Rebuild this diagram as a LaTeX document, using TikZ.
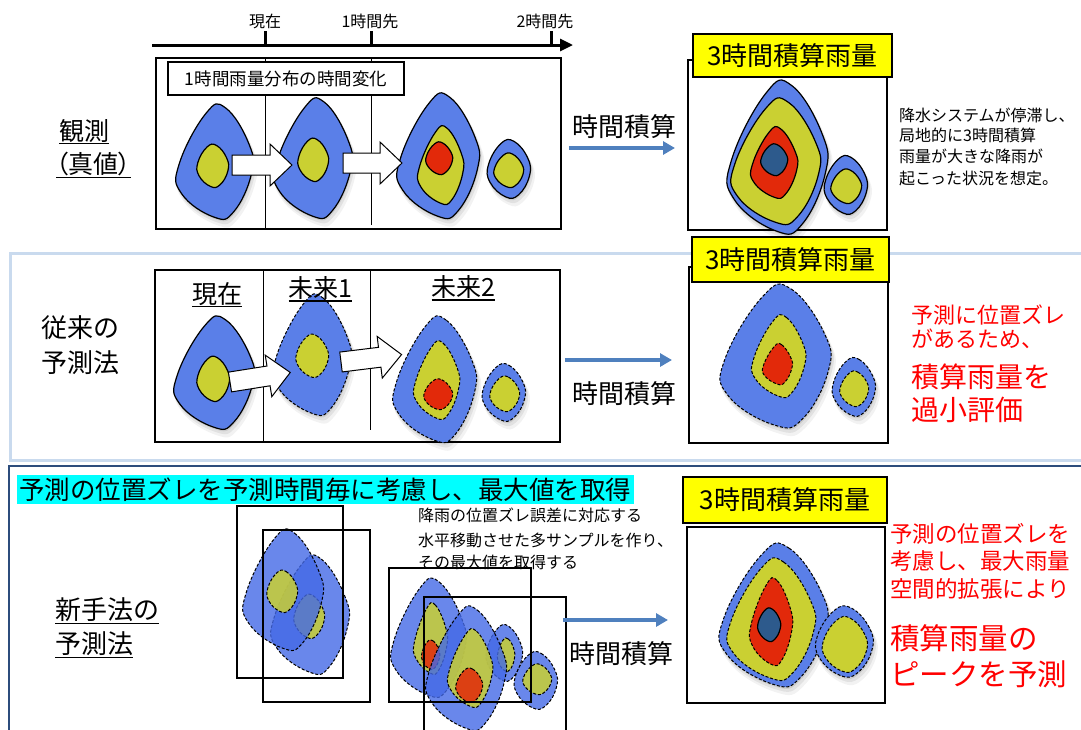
\documentclass[tikz,border=0pt]{standalone}
\usepackage{fontspec}
\setmainfont{Noto Sans CJK JP}
\newfontfamily\jpalt[RawFeature=+palt]{Noto Sans CJK JP}
\usetikzlibrary{arrows.meta}

\definecolor{rainblue}{HTML}{5A7FE8}
\definecolor{ghostblue}{HTML}{4469E6}
\definecolor{rainyellow}{HTML}{CAD032}
\definecolor{rainred}{HTML}{E2290A}
\definecolor{raincore}{HTML}{2D5A8C}
\definecolor{flowblue}{HTML}{4F80BE}
\definecolor{framelight}{HTML}{C9DAEE}
\definecolor{framedark}{HTML}{2C4C7C}
\definecolor{labelyellow}{HTML}{FFFF00}
\definecolor{bannercyan}{HTML}{00FFFF}
\definecolor{alertred}{HTML}{FF0000}

% outlines of rain cells in the unit square (+y points down):
% two points near each corner of a kite, joined by a smooth closed curve
\newcommand\kitepts{(-0.187,-0.77) (0.297,-0.862) (0.873,-0.258) (0.931,0.226) (0.499,0.854) (0.015,0.946) (-0.785,0.554) (-0.843,0.07)}
\newcommand\roundpts{(-0.3125,-0.775) (0.2375,-0.8375) (0.8125,-0.3125) (0.875,0.2375) (0.425,0.8125) (-0.125,0.875) (-0.775,0.425) (-0.8375,-0.125)}

\newcommand\blobplot[2]{\path[#2] plot[smooth cycle, tension=0.75] coordinates {#1};}
% \rainblob[style]{outline}{x0}{y0}{x1}{y1}: outline fitted into the box (x0,y0)-(x1,y1)
\newcommand\rainblob[6][]{%
  \begin{scope}[shift={({((#3)+(#5))/2},{((#4)+(#6))/2})},
                xscale={((#5)-(#3))/2*1.06}, yscale={((#6)-(#4))/2*1.06}]
    \expandafter\blobplot\expandafter{#2}{#1}%
  \end{scope}}
% soft shadow under a rain cell
\newcommand\blobshadow[5]{%
  \foreach \sh/\op in {5/0.05,3/0.07,1.2/0.09}{%
    \rainblob[fill=black, fill opacity=\op]{#1}{#2+0.3*\sh}{#3+0.9*\sh}{#4+0.9*\sh}{#5+1.6*\sh}}}
% white block arrow: \blockarrow{x}{y}{angle}{length}
\newcommand\blockarrow[4]{%
  \begin{scope}[shift={(#1,#2)}, rotate=#3]
    \draw[blockarrow] (0,-10) -- ({#4-22},-10) -- ({#4-22},-21) -- (#4,0)
      -- ({#4-22},21) -- ({#4-22},10) -- (0,10) -- cycle;
  \end{scope}}

\tikzset{
  fillblue/.style={fill=rainblue},
  fillyellow/.style={fill=rainyellow},
  fillred/.style={fill=rainred},
  fillcore/.style={fill=raincore},
  solidline/.style={draw=black, line width=1.2pt},
  dashline/.style={draw=black, line width=1pt, dash pattern=on 3pt off 1.8pt},
  ghost/.style={fill opacity=0.85},
  ghostblue/.style={fill=ghostblue, fill opacity=0.8},
  panel/.style={draw=black, line width=1.6pt, inner sep=0pt},
  resultbox/.style={draw=black, line width=2pt, inner sep=0pt},
  sample/.style={draw=black, line width=2pt, inner sep=0pt},
  ylabel/.style={draw=black, line width=1.3pt, fill=labelyellow, inner sep=0pt,
    font=\fontsize{26}{30}\selectfont},
  flow/.style={draw=flowblue, line width=4pt, -{Triangle[length=12pt,width=13pt]}},
  flowtext/.style={inner sep=0pt, font=\fontsize{26}{30}\selectfont},
  blockarrow/.style={draw=black, line width=1pt, fill=white, line join=miter},
  txt/.style={inner sep=0pt, anchor=west},
  underlined/.style={inner sep=0pt, outer sep=0pt,
    append after command={([yshift=-1.5pt]\tikzlastnode.south west)
      edge[draw=black, line width=1.3pt] ([yshift=-1.5pt]\tikzlastnode.south east)}},
}

\begin{document}
\begin{tikzpicture}[x=1pt, y=-1pt]
\useasboundingbox (0,0) rectangle (1081,729);

% ---------- section frames ----------
\draw[framelight, line width=3pt] (10,253) rectangle (1100,460);
\draw[framedark, line width=2.5pt] (9,466) rectangle (1100,745);

% ---------- observation (truth) ----------
\draw[line width=3pt, -{Triangle[length=13pt,width=12pt]}] (152,45) -- (573,45);
\foreach \tx in {265,371,551} \draw[line width=3pt] (\tx,31) -- (\tx,45);
\node[inner sep=0pt, font=\fontsize{16}{18}\selectfont] (tnow) at (265,21.5) {現在};
\node[inner sep=0pt, font=\fontsize{16}{18}\selectfont] (t1h) at (370,21.5) {1時間先};
\node[inner sep=0pt, font=\fontsize{16}{18}\selectfont] (t2h) at (545,21.5) {2時間先};

\node[panel, minimum width=405pt, minimum height=171pt] (p1) at (358.5,143.5) {};
\draw[line width=1pt] (265,58) -- (265,229);
\draw[line width=1pt] (371,58) -- (371,225);

\blobshadow{\kitepts}{175}{103}{252}{217}
\rainblob[fillblue,solidline]{\kitepts}{175}{103}{252}{217}
\rainblob[fillyellow,solidline]{\roundpts}{196}{143}{229}{188}
\blobshadow{\kitepts}{273}{97}{351}{216}
\rainblob[fillblue,solidline]{\kitepts}{273}{97}{351}{216}
\rainblob[fillyellow,solidline]{\roundpts}{297}{137}{329}{182}
\blobshadow{\kitepts}{396}{92}{478}{216}
\rainblob[fillblue,solidline]{\kitepts}{396}{92}{478}{216}
\rainblob[fillyellow,solidline]{\kitepts}{417}{125}{463}{203}
\rainblob[fillred,solidline]{\roundpts}{425}{141}{453}{175}
\blobshadow{\roundpts}{486}{138}{531}{199}
\rainblob[fillblue,solidline]{\roundpts}{486}{138}{531}{199}
\rainblob[fillyellow,solidline]{\roundpts}{493}{152}{524}{188}

\blockarrow{232}{165}{0}{60}
\blockarrow{343}{163}{0}{59}

\node[draw=black, line width=1.2pt, fill=white, inner sep=0pt, minimum width=236pt,
  minimum height=33pt, font=\fontsize{17.5}{20}\selectfont] (hourly) at (286,78.5)
  {1時間雨量分布の時間変化};

\node[underlined, anchor=base west, font=\fontsize{25}{30}\selectfont] (obs) at (59,140) {観測};
\node[underlined, anchor=base west, font=\fontsize{25}{30}\jpalt] (truth) at (56,173.5) {（真値）};

\node[resultbox, minimum width=199pt, minimum height=170pt] (r1) at (787.5,145) {};
\blobshadow{\kitepts}{726}{79}{826}{231}
\rainblob[fillblue,solidline]{\kitepts}{726}{79}{826}{231}
\rainblob[fillyellow,solidline]{\kitepts}{730}{97}{819}{222}
\rainblob[fillred,solidline]{\kitepts}{750}{126}{797}{197}
\rainblob[fillcore,solidline]{\roundpts}{760}{143}{788}{176}
\blobshadow{\roundpts}{823}{154}{868}{215}
\rainblob[fillblue,solidline]{\roundpts}{823}{154}{868}{215}
\rainblob[fillyellow,solidline]{\roundpts}{830}{168}{862}{204}
\node[ylabel, minimum width=199pt, minimum height=43pt] (acc1) at (792.5,55.5) {3時間積算雨量};

\draw[flow] ([xshift=7pt,yshift=-4.5pt]p1.east) -- ([xshift=-12pt,yshift=-3pt]r1.west);
\node[flowtext] (int1) at (624,126.5) {時間積算};

\begin{scope}[font=\fontsize{16}{18}\selectfont]
\node[txt] (note1a) at (899,115) {降水システムが停滞し、};
\node[txt] (note1b) at (899,135) {局地的に3時間積算};
\node[txt] (note1c) at (899,156.5) {雨量が大きな降雨が};
\node[txt] (note1d) at (899,178) {起こった状況を想定。};
\end{scope}

% ---------- conventional forecast ----------
\node[txt, font=\fontsize{26}{30}\selectfont] (conv1) at (41,327.5) {従来の};
\node[txt, font=\fontsize{26}{30}\selectfont] (conv2) at (41,363) {予測法};

\node[panel, minimum width=405pt, minimum height=172pt] (p2) at (357.5,356) {};
\draw[line width=1pt] (263,270) -- (263,442);
\draw[line width=1pt] (370,270) -- (370,430);

\blobshadow{\kitepts}{173}{315}{253}{427}
\rainblob[fillblue,solidline]{\kitepts}{173}{315}{253}{427}
\rainblob[fillyellow,solidline]{\roundpts}{196}{355}{230}{402}
\blobshadow{\kitepts}{272}{293}{350}{413}
\rainblob[fillblue,dashline]{\kitepts}{272}{293}{350}{413}
\rainblob[fillyellow,dashline]{\roundpts}{295}{333}{329}{378}
\blobshadow{\kitepts}{392}{315}{475}{440}
\rainblob[fillblue,dashline]{\kitepts}{392}{315}{475}{440}
\rainblob[fillyellow,dashline]{\kitepts}{413}{340}{459}{418}
\rainblob[fillred,dashline]{\roundpts}{423}{378}{453}{410}
\blobshadow{\roundpts}{481}{362}{526}{422}
\rainblob[fillblue,dashline]{\roundpts}{481}{362}{526}{422}
\rainblob[fillyellow,dashline]{\roundpts}{489}{375}{520}{412}

\blockarrow{230}{382}{9}{61}
\blockarrow{341}{362}{7}{61}

\node[underlined, anchor=base, font=\fontsize{25}{30}\selectfont] (now2) at (217,303) {現在};
\node[underlined, anchor=base, font=\fontsize{25}{30}\selectfont] (fut1) at (320.5,297.5) {未来1};
\node[underlined, anchor=base, font=\fontsize{25}{30}\selectfont] (fut2) at (463.5,296.5) {未来2};

\node[resultbox, minimum width=199pt, minimum height=176pt] (r2) at (788.5,355) {};
\blobshadow{\kitepts}{719}{283}{829}{425}
\rainblob[fillblue,dashline]{\kitepts}{719}{283}{829}{425}
\rainblob[fillyellow,dashline]{\kitepts}{751}{314}{805}{396}
\rainblob[fillred,dashline]{\kitepts}{762}{343}{792}{384}
\blobshadow{\roundpts}{831}{356}{876}{417}
\rainblob[fillblue,dashline]{\roundpts}{831}{356}{876}{417}
\rainblob[fillyellow,dashline]{\roundpts}{839}{370}{869}{407}
\node[ylabel, minimum width=197pt, minimum height=45pt] (acc2) at (790.5,259.5) {3時間積算雨量};

\draw[flow] ([xshift=4pt,yshift=-4pt]p2.east) -- ([xshift=-16pt,yshift=-5pt]r2.west);
\node[flowtext] (int2) at (624.5,394) {時間積算};

\begin{scope}[alertred]
\node[txt, font=\fontsize{22}{24}\selectfont] (warn2a) at (911,315) {予測に位置ズレ};
\node[txt, font=\fontsize{22}{24}\selectfont] (warn2b) at (911,339) {があるため、};
\node[txt, font=\fontsize{28}{30}\selectfont] (warn2c) at (911,376.5) {積算雨量を};
\node[txt, font=\fontsize{28}{30}\selectfont] (warn2d) at (911,410) {過小評価};
\end{scope}

% ---------- new method ----------
\node[fill=bannercyan, inner sep=0pt, minimum width=617pt, minimum height=29pt,
  font=\fontsize{25.5}{28}\selectfont] (banner) at (325.5,489.5)
  {予測の位置ズレを予測時間毎に考慮し、最大値を取得};

\node[underlined, anchor=base west, font=\fontsize{26}{30}\selectfont] (new1) at (55,619.5) {新手法の};
\node[underlined, anchor=base west, font=\fontsize{26}{30}\selectfont] (new2) at (55,653.5) {予測法};

% shifted samples of the first-hour cell
\rainblob[ghostblue,dashline]{\kitepts}{270}{554}{348}{672}
\rainblob[fillyellow,ghost,dashline]{\roundpts}{293}{593}{325}{639}
\rainblob[ghostblue,dashline]{\kitepts}{242}{528}{322}{648}
\rainblob[fillyellow,ghost,dashline]{\roundpts}{266}{569}{298}{613}

% shifted samples of the second-hour cells
\rainblob[ghostblue,dashline]{\kitepts}{390}{577}{465}{695}
\rainblob[fillyellow,ghost,dashline]{\kitepts}{413}{602}{447}{673}
\rainblob[fillred,ghost,dashline]{\roundpts}{421}{639}{440}{670}
\rainblob[ghostblue,dashline]{\roundpts}{485}{623}{523}{682}
\rainblob[fillyellow,ghost,dashline]{\roundpts}{497}{637}{515}{672}
\rainblob[ghostblue,dashline]{\kitepts}{425}{605}{505}{728}
\rainblob[fillyellow,ghost,dashline]{\kitepts}{447}{628}{492}{706}
\rainblob[fillred,ghost,dashline]{\roundpts}{455}{667}{483}{703}
\rainblob[ghostblue,dashline]{\roundpts}{513}{650}{558}{710}
\rainblob[fillyellow,ghost,dashline]{\roundpts}{522}{663}{552}{695}

\node[sample, minimum width=106pt, minimum height=172pt] (s1) at (290,592) {};
\node[sample, minimum width=107pt, minimum height=172pt] (s2) at (316.5,616) {};
\node[sample, minimum width=142pt, minimum height=134pt] (s3) at (460,635) {};
\node[sample, minimum width=142pt, minimum height=163pt] (s4) at (495,678.5) {};

\begin{scope}[font=\fontsize{16}{18}\selectfont]
\node[txt] (note3a) at (418,515.5) {降雨の位置ズレ誤差に対応する};
\node[txt] (note3b) at (418,540) {水平移動させた多サンプルを作り、};
\node[txt] (note3c) at (418,562.5) {その最大値を取得する};
\end{scope}

\node[resultbox, minimum width=198pt, minimum height=176pt] (r3) at (786,615) {};
\blobshadow{\kitepts}{718}{542}{826}{684}
\rainblob[fillblue,dashline]{\kitepts}{718}{542}{826}{684}
\rainblob[fillyellow,dashline]{\kitepts}{726}{557}{814}{678}
\rainblob[fillred,dashline]{\kitepts}{749}{577}{792}{664}
\rainblob[fillcore,solidline]{\roundpts}{757}{607}{781}{642}
\blobshadow{\roundpts}{814}{604}{874}{678}
\rainblob[fillblue,dashline]{\roundpts}{814}{604}{874}{678}
\rainblob[fillyellow,dashline]{\roundpts}{821}{615}{868}{673}
\node[ylabel, minimum width=204pt, minimum height=46pt] (acc3) at (785,500) {3時間積算雨量};

\draw[flow] ([xshift=-4pt,yshift=58.5pt]s4.east) -- ([xshift=-18pt,yshift=-5pt]r3.west);
\node[flowtext] (int3) at (621.5,653.5) {時間積算};

\begin{scope}[alertred]
\node[txt, font=\fontsize{22.5}{24}\selectfont] (warn3a) at (890,533.5) {予測の位置ズレを};
\node[txt, font=\fontsize{22.5}{24}\selectfont] (warn3b) at (890,561) {考慮し、最大雨量};
\node[txt, font=\fontsize{22.5}{24}\selectfont] (warn3c) at (890,589) {空間的拡張により};
\node[txt, font=\fontsize{29.5}{32}\selectfont] (warn3d) at (890,638) {積算雨量の};
\node[txt, font=\fontsize{29.5}{32}\selectfont] (warn3e) at (890,674.5) {ピークを予測};
\end{scope}
\end{tikzpicture}
\end{document}
